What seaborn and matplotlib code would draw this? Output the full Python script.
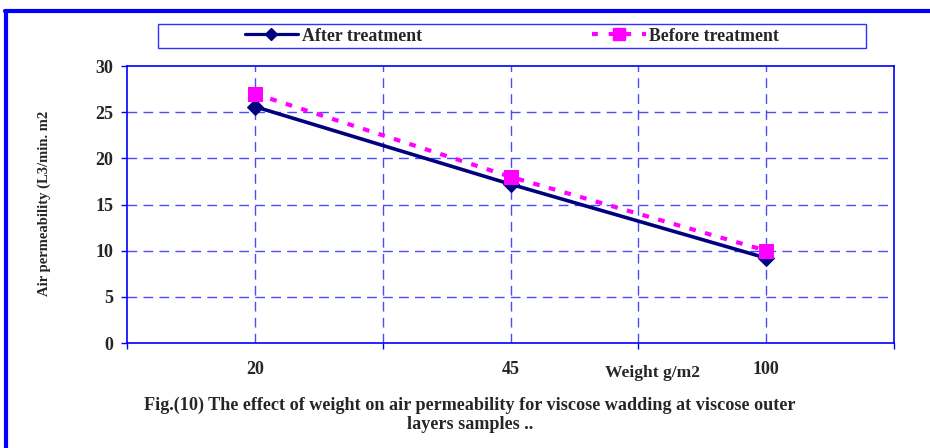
import matplotlib
matplotlib.use("Agg")
import matplotlib.pyplot as plt
from matplotlib.lines import Line2D
from matplotlib.patches import Rectangle
import seaborn as sns
import pandas as pd

# Data
weights = ["20", "45", "100"]
after_treatment = [25.6, 17.2, 9.2]
before_treatment = [27.0, 18.0, 10.0]
y_ticks = [0, 5, 10, 15, 20, 25, 30]

df = pd.DataFrame({
    "Weight": weights * 2,
    "Air permeability": after_treatment + before_treatment,
    "Series": ["After treatment"] * 3 + ["Before treatment"] * 3,
})

sns.set_theme(style="white")
plt.rcParams["font.family"] = ["Liberation Serif", "DejaVu Serif"]
plt.rcParams["font.weight"] = "bold"

NAVY = "#000080"
MAGENTA = "#ff00ff"
BLUE = "#0000ff"
GRID = "#4a4aff"
FS_TICK = 13
FS_LEG = 12.8
FS_CAP = 13.1
FS_YLAB = 10.5
FS_XLAB = 12.6

fig = plt.figure(figsize=(9.30, 4.48), dpi=100)
ax = fig.add_axes([127 / 930, 1 - 343 / 448, 767 / 930, 277 / 448])

sub_after = df[df["Series"] == "After treatment"]
sub_before = df[df["Series"] == "Before treatment"]
sns.lineplot(data=sub_after, x="Weight", y="Air permeability", ax=ax,
             color=NAVY, lw=2.6, marker="D", markersize=8,
             markeredgecolor=NAVY, markerfacecolor=NAVY, zorder=4,
             sort=False, legend=False)
sns.lineplot(data=sub_before, x="Weight", y="Air permeability", ax=ax,
             color=MAGENTA, lw=3, marker="s", markersize=9.5,
             markeredgecolor=MAGENTA, markerfacecolor=MAGENTA, zorder=5,
             sort=False, legend=False, dashes=False)
ax.lines[-1].set_dashes([1.6, 2.3])

ax.set_xlim(-0.5, 2.5)
ax.set_ylim(0, 30)
ax.set_yticks(y_ticks)
ax.set_yticklabels([str(t) for t in y_ticks], fontsize=FS_TICK, fontweight="bold")

# Tick marks between categories, labels at category centres
ax.set_xticks([-0.5, 0.5, 1.5, 2.5])
ax.set_xticklabels([])
ax.set_xticks([0, 1, 2], minor=True)
ax.set_xticklabels(weights, minor=True, fontsize=FS_TICK, fontweight="bold")
ax.tick_params(axis="x", which="major", direction="out", length=4,
               width=1, color=BLUE, bottom=True)
ax.tick_params(axis="x", which="minor", length=0, pad=13)
ax.tick_params(axis="y", direction="out", length=4, width=1, color=BLUE,
               left=True, pad=6)

for s in ax.spines.values():
    s.set_color(BLUE)
    s.set_linewidth(1.2)

ax.set_xlabel("")
ax.set_ylabel("")
ax.grid(False)
for xv in [0, 0.5, 1, 1.5, 2]:
    ax.axvline(xv, color=GRID, lw=1, dashes=(7, 4.5), zorder=1)
for yv in y_ticks[1:-1]:
    ax.axhline(yv, color=GRID, lw=1, dashes=(7, 4.5), zorder=1)

# Axis titles
fig.text(652 / 930, 1 - 373 / 448, "Weight g/m2", ha="center", va="center",
         fontsize=FS_XLAB, fontweight="bold")
fig.text(44 / 930, 1 - 203 / 448, "Air permeability (L3/min. m2",
         ha="center", va="center", rotation=90, fontsize=FS_YLAB,
         fontweight="bold")

# Caption
fig.text(470 / 930, 1 - 405 / 448,
         "Fig.(10) The effect of weight on air permeability for viscose wadding at viscose outer",
         ha="center", va="center", fontsize=FS_CAP, fontweight="bold")
fig.text(470 / 930, 1 - 424 / 448, "layers samples ..",
         ha="center", va="center", fontsize=FS_CAP, fontweight="bold")

# Legend
handles = [
    Line2D([], [], color=NAVY, lw=2.3, marker="D", markersize=6.5),
    Line2D([], [], color=MAGENTA, lw=3, marker="s", markersize=8.5,
           dashes=[1.4, 2.6]),
]
fig.legend(handles, ["After treatment", "Before treatment"],
           loc="center", bbox_to_anchor=(512 / 930, 1 - 36 / 448),
           ncol=2, frameon=False, handlelength=3.0, handletextpad=0.2,
           columnspacing=9.6, prop={"size": FS_LEG, "weight": "bold"})
fig.patches.append(Rectangle((158 / 930, 1 - 48 / 448), 708 / 930, 24 / 448,
                             transform=fig.transFigure, fill=False,
                             edgecolor="#3030ff", lw=1))

# Outer frame
fig.add_artist(Line2D([5 / 930, 1], [1 - 11 / 448, 1 - 11 / 448],
                      transform=fig.transFigure, color=BLUE, lw=3))
fig.add_artist(Line2D([6 / 930, 6 / 930], [0, 1 - 11 / 448],
                      transform=fig.transFigure, color=BLUE, lw=3))

fig.savefig("out.png", dpi=100)
